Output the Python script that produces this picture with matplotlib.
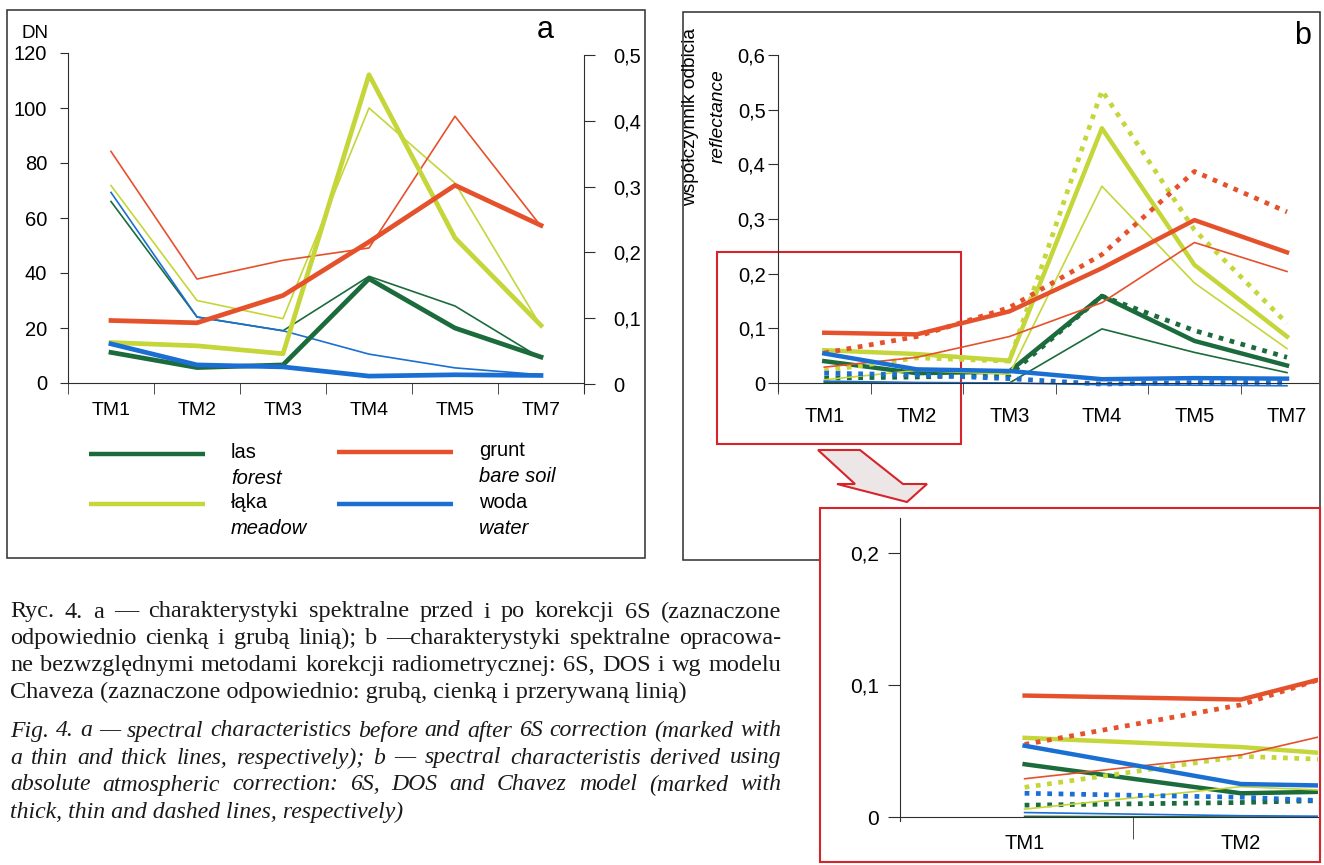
import numpy as np
import matplotlib.pyplot as plt
from matplotlib.patches import Rectangle, Polygon

plt.rcParams['font.family'] = ['Liberation Sans', 'DejaVu Sans']

bands = ['TM1', 'TM2', 'TM3', 'TM4', 'TM5', 'TM7']

# a: DN before correction (thin lines, left axis)
las_dn = [66, 24, 19, 38.8, 28, 9]
laka_dn = [71.8, 30, 23.4, 100, 72.7, 20.6]
grunt_dn = [84.2, 37.8, 44.6, 49.1, 97, 57]
woda_dn = [69.3, 24, 19, 10.5, 5.5, 3]

# a: reflectance after 6S (thick lines, right axis)
las_6s_a = [0.048, 0.025, 0.029, 0.16, 0.085, 0.041]
laka_6s_a = [0.063, 0.058, 0.046, 0.47, 0.222, 0.089]
grunt_6s_a = [0.0965, 0.093, 0.1345, 0.216, 0.302, 0.241]
woda_6s_a = [0.061, 0.029, 0.026, 0.012, 0.014, 0.013]

# b: 6S (thick), DOS (thin), Chavez (dashed)
las_6s = [0.040, 0.018, 0.021, 0.159, 0.077, 0.032]
las_dos = [0.0005, 0.0, 0.0, 0.099, 0.056, 0.019]
las_chav = [0.009, 0.011, 0.015, 0.159, 0.096, 0.047]
laka_6s = [0.060, 0.053, 0.041, 0.466, 0.216, 0.085]
laka_dos = [0.006, 0.023, 0.016, 0.36, 0.183, 0.063]
laka_chav = [0.0225, 0.046, 0.040, 0.535, 0.28, 0.109]
grunt_6s = [0.092, 0.089, 0.131, 0.21, 0.298, 0.239]
grunt_dos = [0.029, 0.047, 0.085, 0.147, 0.257, 0.204]
grunt_chav = [0.055, 0.085, 0.138, 0.235, 0.387, 0.313]
woda_6s = [0.054, 0.025, 0.022, 0.007, 0.009, 0.008]
woda_dos = [0.0034, 0.001, 0.0, -0.003, -0.004, -0.005]
woda_chav = [0.018, 0.015, 0.008, -0.002, 0.001, 0.001]

dn_ticks = [0, 20, 40, 60, 80, 100, 120]
refl_a_ticks = [0, 0.1, 0.2, 0.3, 0.4, 0.5]
refl_a_labels = ['0', '0,1', '0,2', '0,3', '0,4', '0,5']
refl_b_ticks = [0, 0.1, 0.2, 0.3, 0.4, 0.5, 0.6]
refl_b_labels = ['0', '0,1', '0,2', '0,3', '0,4', '0,5', '0,6']
inset_ticks = [0, 0.1, 0.2]
inset_labels = ['0', '0,1', '0,2']

legend_pl = ['las', 'łąka', 'grunt', 'woda']
legend_en = ['forest', 'meadow', 'bare soil', 'water']

caption_pl = [
    'Ryc. 4. a — charakterystyki spektralne przed i po korekcji 6S (zaznaczone',
    'odpowiednio cienką i grubą linią); b —charakterystyki spektralne opracowa-',
    'ne bezwzględnymi metodami korekcji radiometrycznej: 6S, DOS i wg modelu',
    'Chaveza (zaznaczone odpowiednio: grubą, cienką i przerywaną linią)',
]
caption_en = [
    'Fig. 4. a — spectral characteristics before and after 6S correction (marked with',
    'a thin and thick lines, respectively); b — spectral characteristis derived using',
    'absolute atmospheric correction: 6S, DOS and Chavez model (marked with',
    'thick, thin and dashed lines, respectively)',
]

c_las = '#1b6b3c'
c_laka = '#c5d63a'
c_grunt = '#e5512b'
c_woda = '#1b6fd3'
c_red = '#d8232a'
c_ink = '#2e2e2e'
class_colors = [c_las, c_laka, c_grunt, c_woda]
cap_font = ['Liberation Serif', 'DejaVu Serif']

W, H = 1324, 865
fig = plt.figure(figsize=(W / 100, H / 100), dpi=100)


def box_axes(x0, y0, x1, y1, **kw):
    # pixel box, origin top-left
    return fig.add_axes([x0 / W, 1 - y1 / H, (x1 - x0) / W, (y1 - y0) / H], **kw)


bg = box_axes(0, 0, W, H)
bg.set_xlim(0, W)
bg.set_ylim(H, 0)
bg.axis('off')

# frames
bg.add_patch(Rectangle((7, 10), 638, 548, fill=False, ec=c_ink, lw=1.1))
bg.add_patch(Rectangle((683, 12), 637, 548, fill=False, ec=c_ink, lw=1.1))
bg.add_patch(Rectangle((717, 252), 244, 192, fill=False, ec=c_red, lw=1.5))
bg.add_patch(Polygon([(818, 450), (860, 450), (903, 484), (927, 484),
                      (907, 502), (837, 484), (855, 484)],
                     closed=True, fc='#ece6e6', ec=c_red, lw=1.5))
bg.add_patch(Rectangle((820, 508), 500, 354, fc='white', ec=c_red, lw=1.5))

x = np.arange(len(bands))

# ---- panel a ----
axa = box_axes(68, 53, 584, 383, facecolor='none')
axa.set_xlim(-0.5, 5.5)
axa.set_ylim(0, 120)
axa.spines[['top', 'right']].set_visible(False)
axa.spines[['left', 'bottom']].set_color(c_ink)
axa.set_yticks(dn_ticks)
axa.set_xticks(x, bands)
axa.set_xticks(np.arange(-0.5, 6, 1), minor=True)
axa.tick_params(axis='x', which='major', length=0, pad=14, labelsize=14)
axa.tick_params(axis='x', which='minor', length=8, color=c_ink)
axa.tick_params(axis='y', length=6, pad=9, labelsize=14.5, color=c_ink)

axr = box_axes(68, 55, 584, 384, facecolor='none')
axr.set_xlim(-0.5, 5.5)
axr.set_ylim(0, 0.5)
axr.spines[['top', 'left', 'bottom']].set_visible(False)
axr.spines['right'].set_color(c_ink)
axr.spines['right'].set_bounds(-0.014, 0.5)
axr.yaxis.tick_right()
axr.set_xticks([])
axr.set_yticks(refl_a_ticks, refl_a_labels)
axr.tick_params(axis='y', length=8, pad=13, labelsize=14.5, color=c_ink)

for vals, col in zip([las_dn, laka_dn, grunt_dn, woda_dn], class_colors):
    axa.plot(x, vals, color=col, lw=1.2, clip_on=False)
for vals, col in zip([las_6s_a, laka_6s_a, grunt_6s_a, woda_6s_a], class_colors):
    axr.plot(x, vals, color=col, lw=3.4, clip_on=False)

bg.text(35, 33, 'DN', fontsize=13.5, ha='center', va='center')
bg.text(545, 30, 'a', fontsize=22, ha='center', va='center')

# legend
leg_pos = [(89, 454), (89, 504), (337, 452), (337, 504)]
for (lx, ly), col, pl, en in zip(leg_pos, class_colors, legend_pl, legend_en):
    bg.plot([lx, lx + 116], [ly, ly], color=col, lw=3.2, solid_capstyle='butt')
    bg.text(lx + 142, ly - 1, pl, fontsize=14.5, va='center')
    bg.text(lx + 142, ly + 24, en, fontsize=14.5, style='italic', va='center')

# ---- panel b ----
b_series = [
    (las_6s, las_dos, las_chav),
    (laka_6s, laka_dos, laka_chav),
    (grunt_6s, grunt_dos, grunt_chav),
    (woda_6s, woda_dos, woda_chav),
]


def draw_b(ax):
    for (s6, dos, chav), col in zip(b_series, class_colors):
        ax.plot(x, dos, color=col, lw=1.2)
        ax.plot(x, s6, color=col, lw=3.2)
        ax.plot(x, chav, color=col, lw=3.4, linestyle=(0, (1, 1.4)),
                dash_capstyle='butt')


axb = box_axes(778, 55, 1318, 391, facecolor='none')
axb.set_xlim(-0.5, 5.335)
axb.set_ylim(-0.0146, 0.6)
axb.spines[['top', 'right']].set_visible(False)
axb.spines[['left', 'bottom']].set_color(c_ink)
axb.spines['bottom'].set_position(('data', 0))
axb.set_yticks(refl_b_ticks, refl_b_labels)
axb.set_xticks(x, bands)
axb.set_xticks(np.arange(-0.5, 5.4, 1), minor=True)
axb.tick_params(axis='x', which='major', length=0, pad=17, labelsize=14.5)
axb.tick_params(axis='x', which='minor', length=8, color=c_ink)
axb.tick_params(axis='y', length=7, pad=2, labelsize=14.5, color=c_ink)
draw_b(axb)

bg.text(691, 117, 'współczynnik odbicia', fontsize=13.8, rotation=90,
        ha='center', va='center')
bg.text(718, 116, 'reflectance', fontsize=13.8, rotation=90, style='italic',
        ha='center', va='center')
bg.text(1303, 36, 'b', fontsize=22, ha='center', va='center')

# ---- inset (TM1-TM2 zoom) ----
axi = box_axes(900, 518, 1318, 821, facecolor='none')
axi.set_xlim(-0.576, 1.356)
axi.set_ylim(-0.003, 0.2265)
axi.spines[['top', 'right']].set_visible(False)
axi.spines[['left', 'bottom']].set_color(c_ink)
axi.spines['bottom'].set_position(('data', 0))
axi.set_yticks(inset_ticks, inset_labels)
axi.set_xticks(x[:2], bands[:2])
axi.set_xticks([0.5], minor=True)
axi.tick_params(axis='x', which='major', length=0, pad=12, labelsize=14.5)
axi.tick_params(axis='x', which='minor', length=16, color=c_ink)
axi.tick_params(axis='y', length=9, pad=6, labelsize=15, color=c_ink)
draw_b(axi)

# ---- caption ----
cap_x0, cap_x1 = 10, 781
renderer = fig.canvas.get_renderer()


def caption(lines, y0, dy, style):
    probe = bg.text(0, 0, '', fontsize=10, family=cap_font, style=style)
    widest = 0
    for ln in lines:
        probe.set_text(ln)
        widest = max(widest, probe.get_window_extent(renderer).width)
    probe.remove()
    size = 10 * (cap_x1 - cap_x0) / widest * 0.99
    for i, ln in enumerate(lines):
        y = y0 + i * dy
        if i == len(lines) - 1:
            bg.text(cap_x0, y, ln, fontsize=size, family=cap_font,
                    style=style, va='center', color='#1a1a1a')
            continue
        words = ln.split(' ')
        arts = [bg.text(0, y, w, fontsize=size, family=cap_font,
                        style=style, va='center', color='#1a1a1a') for w in words]
        widths = [a.get_window_extent(renderer).width for a in arts]
        gap = (cap_x1 - cap_x0 - sum(widths)) / (len(words) - 1)
        xx = cap_x0
        for a, w in zip(arts, widths):
            a.set_x(xx)
            xx += w + gap


caption(caption_pl, 612, 26.8, 'normal')
caption(caption_en, 731, 27, 'italic')

fig.savefig('out.png', dpi=100)
